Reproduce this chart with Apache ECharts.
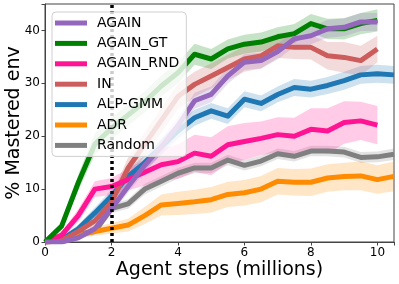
<!DOCTYPE html>
<html><head><meta charset="utf-8">
<script src="https://cdn.jsdelivr.net/npm/echarts@6/dist/echarts.min.js"></script>
<style>html,body{margin:0;padding:0;background:#fff}#c{width:399px;height:284px}</style>
</head><body><div id="c"></div>
<script>
const steps = [0,0.5,1,1.5,2,2.5,3,3.5,4,4.5,5,5.5,6,6.5,7,7.5,8,8.5,9,9.5,10,10.5];
const xTicks = [0,2,4,6,8,10];
const yTicks = [0,10,20,30,40];
const refLineX = 2;

const names = ['AGAIN','AGAIN_GT','AGAIN_RND','IN','ALP-GMM','ADR','Random'];
const colors = ['#9467bd','#008000','#ff1493','#cd5c5c','#1f77b4','#ff8c00','#808080'];

const againMean = [0,0,0.8,2.5,6.3,10.5,14.5,18,22,26.7,27.9,31.4,34,34.3,36,38.4,39,40.3,40.6,41.6,41.6];
const againStd  = [0,0,0.4,0.7,1,1.2,1.3,1.4,1.5,1.5,1.5,1.5,1.5,1.5,1.5,1.5,1.6,1.7,1.7,1.7,1.7];
const gtMean = [0,3,11.2,18.5,21.5,24,26.5,29.5,32,35.5,34.6,36.5,37.4,37.8,38.8,39.4,41.3,40.3,40.3,41.3,41.9];
const gtStd  = [0,0.6,1.5,2,2.1,2,2,2,2,2,1.9,1.8,1.8,1.8,1.8,1.8,1.8,1.9,2,2,2.1];
const rndMean = [0,1.3,5,10,10.5,11.8,13.2,14.6,15.2,16.8,16.2,18.4,19,19.6,20.3,20,21.3,21,22.6,22.9,22.1];
const rndStd  = [0,0.5,1.2,1.5,1.6,2,2.5,3,3.3,3.5,3.6,3.5,3.5,3.2,3.3,3.5,4,4.3,4,3.6,3.6];
const inMean = [0,0.3,2,4,7.5,14,18.5,23,27.5,29.8,31.4,33,34.6,35.2,37.1,36.8,36.8,35.2,34.9,34.3,36.5];
const inStd  = [0,0.2,0.6,1,1.5,2,2.2,2.3,2.4,2.4,2.4,2.4,2.4,2.4,2.3,2.2,2.3,2.6,2.9,2.8,2.5];
const alpMean = [0,0.5,2.5,5.5,8.7,12.4,15,18,21,23.5,24.8,23.8,27,26.2,27.9,29.2,28.9,29.6,30.5,31.6,31.8,31.6];
const alpStd  = [0,0.3,0.8,1,1.2,1.3,1.4,1.5,1.5,1.5,1.5,1.5,1.5,1.5,1.5,1.6,1.6,1.6,1.7,1.7,1.7,1.7];
const adrMean = [0,0.2,1.2,2,2.6,3.2,5,7,7.3,7.6,8,9,9.3,10,11.5,11.3,11.3,12.1,12.4,12.5,11.8,12.4];
const adrStd  = [0,0.2,0.5,0.8,1,1.2,1.6,2,2.2,2.3,2.4,2.4,2.4,2.5,2.5,2.5,2.6,2.6,2.6,2.7,2.7,2.8];
const randMean = [0,0.3,1.5,2,6.3,7.2,10,11.5,13,14,14,15.5,14.5,15.3,16.7,16.2,17.2,17.2,17,16,16.1,16.6];
const randStd  = [0,0.2,0.5,0.7,0.8,0.9,1,1,1,1,1,1,1,1,1,1,1,1,1,1,1,1.1];

const means = [againMean, gtMean, rndMean, inMean, alpMean, adrMean, randMean];
const stds = [againStd, gtStd, rndStd, inStd, alpStd, adrStd, randStd];

const FONT = 'DejaVu Sans';
const drawOrder = [6,5,4,3,2,1,0];

function hexA(hex, a){
  const n = parseInt(hex.slice(1),16);
  return 'rgba('+((n>>16)&255)+','+((n>>8)&255)+','+(n&255)+','+a+')';
}

const series = [];
drawOrder.forEach(i => {
  const m = means[i], s = stds[i];
  series.push({
    type:'custom', name:'band_'+names[i], silent:true, z:1, data:[0],
    renderItem:(params, api) => {
      const pts = [];
      for (let k=0;k<m.length;k++) pts.push(api.coord([steps[k], m[k]+s[k]]));
      for (let k=m.length-1;k>=0;k--) pts.push(api.coord([steps[k], Math.max(0, m[k]-s[k])]));
      return {type:'polygon', shape:{points:pts}, style:{fill:hexA(colors[i],0.22)}};
    }
  });
});
drawOrder.forEach(i => {
  series.push({
    type:'line', name:names[i], z:2, color:colors[i], symbol:'none', silent:true,
    lineStyle:{width:5, color:colors[i], join:'round'},
    data: means[i].map((v,k)=>[steps[k], v])
  });
});
series.push({
  type:'line', name:'ref', z:3, data:[], symbol:'none', silent:true,
  markLine:{silent:true, symbol:'none', label:{show:false},
    lineStyle:{color:'#000', type:[3,3], width:3.5},
    data:[{xAxis:refLineX}]}
});

const chart = echarts.init(document.getElementById('c'), null, {renderer:'canvas'});
chart.setOption({
  animation:false,
  textStyle:{fontFamily:FONT},
  grid:{left:45, right:5, top:4, bottom:42, show:true, borderColor:'#444', borderWidth:1,
    containLabel:false, outerBoundsMode:'none'},
  xAxis:{type:'value', min:0, max:10.5, interval:2,
    name:'Agent steps (millions)', nameLocation:'middle', nameGap:19, nameMoveOverlap:false,
    nameTextStyle:{fontSize:19, color:'#000', fontFamily:FONT},
    axisLine:{show:true, onZero:false, lineStyle:{color:'#444', width:1}},
    axisTick:{show:true, length:3.5, lineStyle:{color:'#444'}},
    axisLabel:{fontSize:12, color:'#000', margin:5, fontFamily:FONT,
      formatter:v => xTicks.includes(v) ? String(v) : ''},
    splitLine:{show:false}},
  yAxis:{type:'value', min:0, max:45, interval:10,
    name:'% Mastered env', nameLocation:'middle', nameGap:21, nameMoveOverlap:false,
    nameTextStyle:{fontSize:19, color:'#000', fontFamily:FONT},
    axisLine:{show:true, onZero:false, lineStyle:{color:'#444', width:1}},
    axisTick:{show:true, length:3.5, lineStyle:{color:'#444'}},
    axisLabel:{fontSize:12, color:'#000', margin:5, fontFamily:FONT,
      formatter:v => yTicks.includes(v) ? String(v) : ''},
    splitLine:{show:false}},
  legend:{show:true, orient:'vertical', left:52, top:12, z:10,
    data:names, icon:'rect', itemWidth:32, itemHeight:5, itemGap:0.4,
    backgroundColor:'rgba(255,255,255,0.8)', borderColor:'#d0d0d0', borderWidth:1, borderRadius:4,
    padding:[1,7,1,3],
    textStyle:{fontSize:14, color:'#000', fontFamily:FONT, lineHeight:20, padding:[0,0,0,5]},
    selectedMode:false},
  series:series
});
</script></body></html>
